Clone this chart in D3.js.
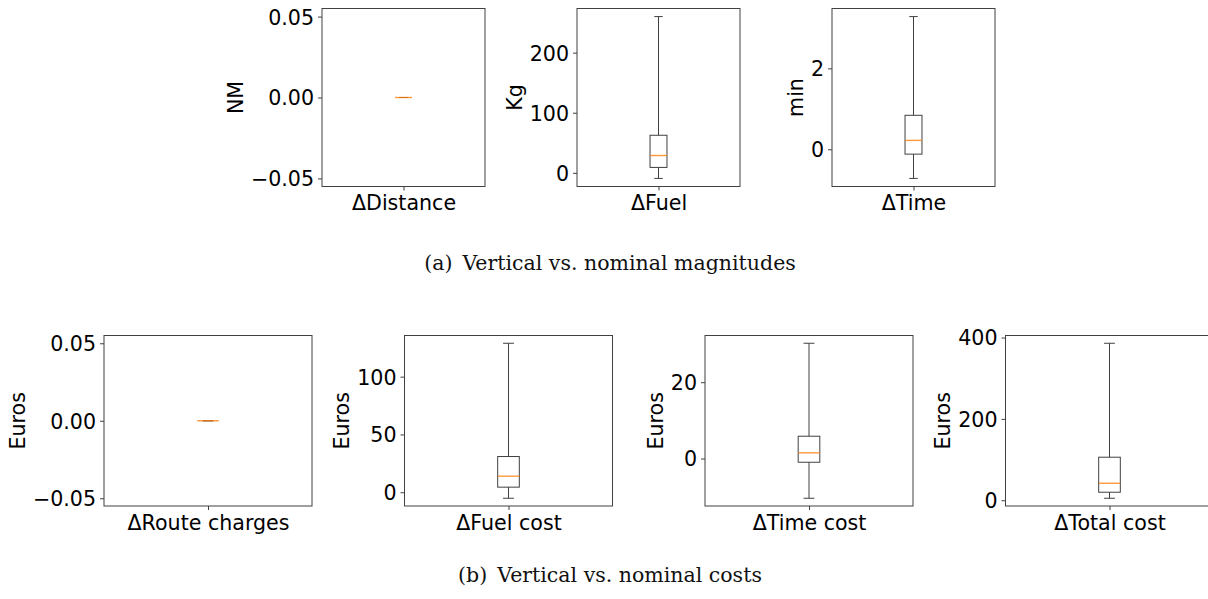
<!DOCTYPE html>
<html>
<head>
<meta charset="utf-8">
<script src="https://cdn.jsdelivr.net/npm/d3@7"></script>
<style>
  body { margin: 0; background: #fff; }
  svg { display: block; }
</style>
</head>
<body>
<script>
// (a) vertical vs. nominal magnitudes
const magLabels = ["ΔDistance", "ΔFuel", "ΔTime"];
const magUnits = ["NM", "Kg", "min"];
const magWhiskerLow = [0, -9.3, -0.72];
const magQ1 = [0, 9, -0.12];
const magMedian = [0, 28.8, 0.22];
const magQ3 = [0, 62.5, 0.84];
const magWhiskerHigh = [0, 260, 3.28];
const magTicks = [[-0.05, 0, 0.05], [0, 100, 200], [0, 2]];

// (b) vertical vs. nominal costs
const costLabels = ["ΔRoute charges", "ΔFuel cost", "ΔTime cost", "ΔTotal cost"];
const costUnits = ["Euros", "Euros", "Euros", "Euros"];
const costWhiskerLow = [0, -5.2, -10.4, 4.9];
const costQ1 = [0, 4.4, -0.97, 19.7];
const costMedian = [0, 13.9, 1.5, 41.8];
const costQ3 = [0, 30.9, 5.85, 105.8];
const costWhiskerHigh = [0, 128.9, 30.2, 386];
const costTicks = [[-0.05, 0, 0.05], [0, 50, 100], [0, 20], [0, 200, 400]];

const captions = [
    { tag: "(a)", text: "Vertical vs. nominal magnitudes", y: 270 },
    { tag: "(b)", text: "Vertical vs. nominal costs", y: 582 }
];

const lineColor = "#404040";
const medianColor = "#ff7f0e";
const fontSize = "20.6px";
const boxWidth = 0.104;   // in x-domain units, x domain is [0.5, 1.5]

const svg = d3.select("body")
    .append("svg")
    .attr("width", 1208)
    .attr("height", 599);

function drawRow(row) {
    row.labels.forEach((label, i) => {
        const left = row.left0 + i * row.step;
        const lo = row.low[i], hi = row.high[i];
        // matplotlib style auto limits: 5% margin, or +-0.055 when flat
        const pad = hi - lo ? (hi - lo) * 0.05 : 0.055;

        const x = d3.scaleLinear().domain([0.5, 1.5]).range([left, left + row.width]);
        const y = d3.scaleLinear().domain([lo - pad, hi + pad]).range([row.bottom, row.top]);

        const g = svg.append("g").attr("class", "panel");

        const fmt = row.ticks[i].some(t => !Number.isInteger(t)) ? d3.format(".2f") : d3.format("d");

        const yAxis = g.append("g")
            .attr("transform", `translate(${left},0)`)
            .call(d3.axisLeft(y).tickValues(row.ticks[i]).tickFormat(fmt).tickSize(4).tickPadding(4));
        yAxis.select(".domain").remove();
        yAxis.selectAll(".tick line").attr("stroke", lineColor);
        yAxis.selectAll(".tick text")
            .attr("fill", "#000")
            .attr("dy", "0.36em")
            .style("font-family", "'DejaVu Sans', sans-serif")
            .style("font-size", fontSize);

        const xAxis = g.append("g")
            .attr("transform", `translate(0,${row.bottom})`)
            .call(d3.axisBottom(x).tickValues([1]).tickFormat(() => label).tickSize(4).tickPadding(5));
        xAxis.select(".domain").remove();
        xAxis.selectAll(".tick line").attr("stroke", lineColor);
        xAxis.selectAll(".tick text")
            .attr("fill", "#000")
            .style("font-family", "'DejaVu Sans', sans-serif")
            .style("font-size", fontSize);

        // y label sits left of the widest tick label
        const maxW = d3.max(yAxis.selectAll(".tick text").nodes(), n => n.getComputedTextLength());
        const lx = left - 8 - maxW - 8;
        g.append("text")
            .attr("transform", `translate(${lx},${(row.top + row.bottom) / 2}) rotate(-90)`)
            .attr("text-anchor", "middle")
            .style("font-family", "'DejaVu Sans', sans-serif")
            .style("font-size", fontSize)
            .attr("fill", "#000")
            .text(row.units[i]);

        const cx = x(1);
        const bw = x(1 + boxWidth / 2) - x(1);

        // whiskers
        g.selectAll(".whisker")
            .data([[row.q3[i], row.high[i]], [row.q1[i], row.low[i]]])
            .enter()
            .append("line")
            .attr("x1", cx).attr("x2", cx)
            .attr("y1", d => y(d[0])).attr("y2", d => y(d[1]))
            .attr("stroke", lineColor);

        // caps, half the box width
        g.selectAll(".cap")
            .data([row.high[i], row.low[i]])
            .enter()
            .append("line")
            .attr("x1", cx - bw / 2).attr("x2", cx + bw / 2)
            .attr("y1", d => y(d)).attr("y2", d => y(d))
            .attr("stroke", lineColor);

        g.append("rect")
            .attr("x", cx - bw)
            .attr("width", bw * 2)
            .attr("y", y(row.q3[i]))
            .attr("height", Math.max(y(row.q1[i]) - y(row.q3[i]), 0))
            .attr("fill", "none")
            .attr("stroke", lineColor);

        g.append("line")
            .attr("x1", cx - bw).attr("x2", cx + bw)
            .attr("y1", y(row.median[i])).attr("y2", y(row.median[i]))
            .attr("stroke", medianColor)
            .attr("stroke-opacity", 0.8)
            .attr("stroke-width", 1.4);

        // frame
        g.append("rect")
            .attr("x", left)
            .attr("y", row.top)
            .attr("width", row.width)
            .attr("height", row.bottom - row.top)
            .attr("fill", "none")
            .attr("stroke", lineColor);
    });
}

drawRow({
    labels: magLabels, units: magUnits, ticks: magTicks,
    low: magWhiskerLow, q1: magQ1, median: magMedian, q3: magQ3, high: magWhiskerHigh,
    left0: 322, step: 255, width: 163, top: 8.5, bottom: 186.5
});

drawRow({
    labels: costLabels, units: costUnits, ticks: costTicks,
    low: costWhiskerLow, q1: costQ1, median: costMedian, q3: costQ3, high: costWhiskerHigh,
    left0: 104, step: 300.5, width: 208, top: 335.5, bottom: 506
});

// subfigure captions
captions.forEach(c => {
    const t = svg.append("text")
        .attr("x", 610)
        .attr("y", c.y)
        .attr("text-anchor", "middle")
        .style("font-family", "'DejaVu Serif', serif")
        .style("font-size", "20.5px")
        .attr("fill", "#111");
    t.append("tspan").text(c.tag);
    t.append("tspan").attr("dx", 10).text(c.text);
});
</script>
</body>
</html>
